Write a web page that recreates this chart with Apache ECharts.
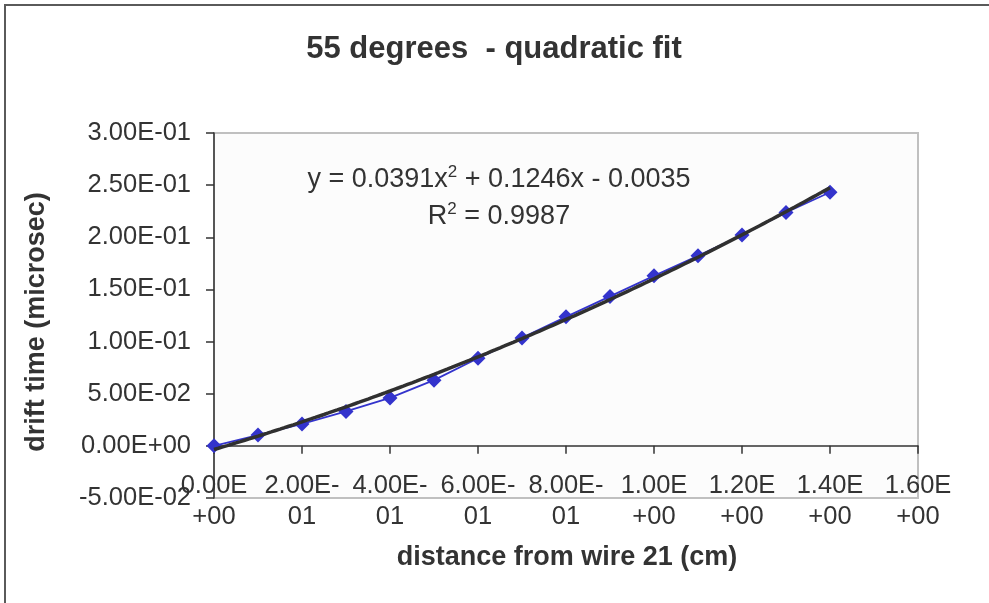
<!DOCTYPE html>
<html>
<head>
<meta charset="utf-8">
<script src="https://cdn.jsdelivr.net/npm/echarts@6/dist/echarts.min.js"></script>
<style>
  html, body { margin: 0; padding: 0; background: #ffffff; }
  #chart { width: 989px; height: 603px; }
</style>
</head>
<body>
<div id="chart"></div>
<script>
// Measured drift times against distance from wire 21
const distance = [0.0, 0.1, 0.2, 0.3, 0.4, 0.5, 0.6, 0.7, 0.8, 0.9, 1.0, 1.1, 1.2, 1.3, 1.4];
const driftTime = [0.0, 0.0103, 0.021, 0.033, 0.046, 0.063, 0.084, 0.1035, 0.1237, 0.1433, 0.163, 0.1823, 0.2022, 0.2238, 0.2432];

// Quadratic trendline: y = a x^2 + b x + c
const fitCoeffs = [0.0391, 0.1246, -0.0035];
const fitR2 = 0.9987;

const titleText = '55 degrees  - quadratic fit';
const xTitle = 'distance from wire 21 (cm)';
const yTitle = 'drift time (microsec)';

const FONT = '"Liberation Sans", Arial, sans-serif';
const TEXT = '#333333';

// Excel-style scientific notation, e.g. 2.50E-01
function sci(v) {
  const parts = v.toExponential(2).split('e');
  const n = parseInt(parts[1], 10);
  return parts[0] + 'E' + (n < 0 ? '-' : '+') + String(Math.abs(n)).padStart(2, '0');
}
// Category labels wrap after the "E" (or after "E-")
function sciWrapped(v) {
  const s = sci(v);
  const i = s.indexOf('E');
  if (s[i + 1] === '-') return s.slice(0, i + 2) + '\n' + s.slice(i + 2);
  return s.slice(0, i + 1) + '\n' + s.slice(i + 1);
}

const xMaxFit = distance[distance.length - 1];
const trend = [];
for (let k = 0; k <= 140; k++) {
  const x = xMaxFit * k / 140;
  trend.push([x, fitCoeffs[0] * x * x + fitCoeffs[1] * x + fitCoeffs[2]]);
}

const scatterData = distance.map((d, i) => [d, driftTime[i]]);

const c1 = fitCoeffs[0].toFixed(4);
const c2 = fitCoeffs[1].toFixed(4);
const c3 = Math.abs(fitCoeffs[2]).toFixed(4);
const c3sign = fitCoeffs[2] < 0 ? '-' : '+';

const eqRich = {
  t: { fontSize: 27, fontFamily: FONT, fill: TEXT, lineHeight: 32 },
  s: { fontSize: 17, fontFamily: FONT, fill: TEXT, lineHeight: 19, verticalAlign: 'top' }
};

const chart = echarts.init(document.getElementById('chart'), null, { renderer: 'canvas' });
chart.setOption({
  animation: false,
  backgroundColor: '#ffffff',
  grid: {
    left: 214, top: 133, width: 704, height: 365,
    show: true, backgroundColor: '#fcfcfc', borderColor: '#c0c0c0', borderWidth: 2
  },
  xAxis: {
    type: 'value', min: 0, max: 1.6, interval: 0.2,
    axisLine: { onZero: true, lineStyle: { color: '#333333', width: 1.5 } },
    axisTick: { show: true, inside: false, length: 8, lineStyle: { color: '#333333', width: 1.5 } },
    splitLine: { show: false },
    axisLabel: {
      margin: -28, color: TEXT, fontSize: 25.5, fontFamily: FONT, lineHeight: 31,
      formatter: sciWrapped, showMinLabel: true, showMaxLabel: true
    }
  },
  yAxis: {
    type: 'value', min: -0.05, max: 0.3, interval: 0.05,
    axisLine: { show: true, onZero: false, lineStyle: { color: '#333333', width: 1.5 } },
    axisTick: { show: true, inside: false, length: 8, lineStyle: { color: '#333333', width: 1.5 } },
    splitLine: { show: false },
    axisLabel: { margin: 23, color: TEXT, fontSize: 25.5, fontFamily: FONT, formatter: sci }
  },
  series: [
    {
      name: 'drift time',
      type: 'line',
      data: scatterData,
      symbol: 'diamond',
      symbolSize: 15,
      lineStyle: { color: '#3333cc', width: 1.8 },
      itemStyle: { color: '#3333cc' },
      z: 2
    },
    {
      name: 'quadratic fit',
      type: 'line',
      data: trend,
      showSymbol: false,
      symbol: 'none',
      lineStyle: { color: '#303030', width: 3.5 },
      z: 3
    }
  ],
  graphic: [
    {
      type: 'rect', silent: true, z: 100,
      shape: { x: 5, y: 5, width: 1000, height: 700 },
      style: { fill: 'none', stroke: '#5a5a5a', lineWidth: 2 }
    },
    {
      type: 'text', x: 494, y: 49, z: 100,
      style: { text: titleText, font: 'bold 31px ' + FONT, fill: TEXT, textAlign: 'center', textVerticalAlign: 'middle' }
    },
    {
      type: 'text', x: 567, y: 558, z: 100,
      style: { text: xTitle, font: 'bold 27px ' + FONT, fill: TEXT, textAlign: 'center', textVerticalAlign: 'middle' }
    },
    {
      type: 'text', x: 37, y: 322, rotation: Math.PI / 2, z: 100,
      style: { text: yTitle, font: 'bold 27px ' + FONT, fill: TEXT, textAlign: 'center', textVerticalAlign: 'middle' }
    },
    {
      type: 'text', x: 499, y: 180, z: 100,
      style: {
        text: '{t|y = ' + c1 + 'x}{s|2}{t| + ' + c2 + 'x ' + c3sign + ' ' + c3 + '}',
        rich: eqRich, textAlign: 'center', textVerticalAlign: 'middle'
      }
    },
    {
      type: 'text', x: 499, y: 217, z: 100,
      style: {
        text: '{t|R}{s|2}{t| = ' + fitR2.toFixed(4) + '}',
        rich: eqRich, textAlign: 'center', textVerticalAlign: 'middle'
      }
    }
  ]
});
</script>
</body>
</html>
